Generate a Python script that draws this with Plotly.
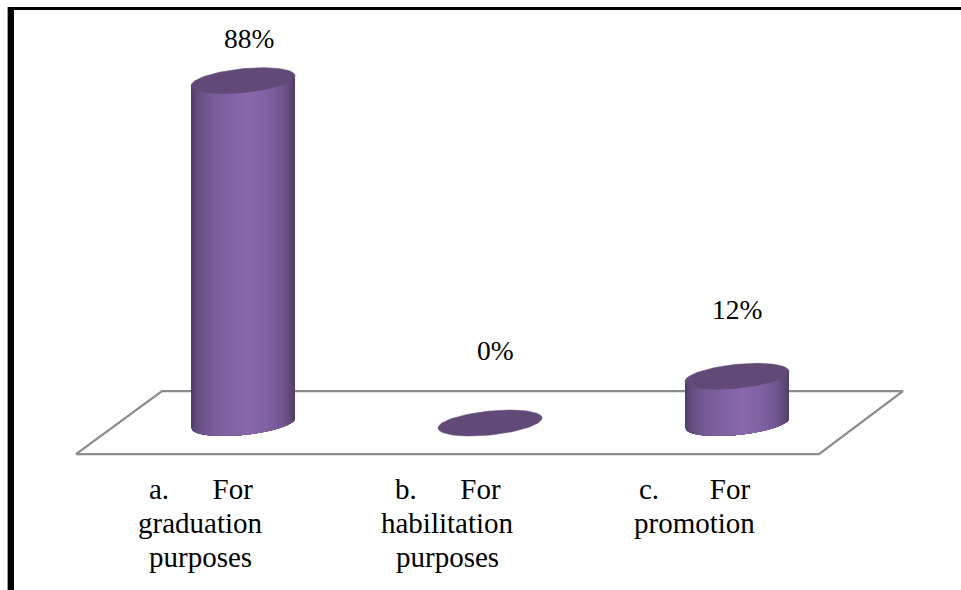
import plotly.graph_objects as go
import numpy as np

# Survey results
categories = [
    ["a.\u00a0\u00a0\u00a0\u00a0\u00a0\u00a0For", "graduation", "purposes"],
    ["b.\u00a0\u00a0\u00a0\u00a0\u00a0\u00a0For", "habilitation", "purposes"],
    ["c.\u00a0\u00a0\u00a0\u00a0\u00a0\u00a0\u00a0For", "promotion"],
]
values = [88, 0, 12]
value_labels = ["88%", "0%", "12%"]

WIDTH, HEIGHT = 961, 590
X_UNIT = 247.0   # pixels between neighbouring categories
Y_UNIT = 3.89    # pixels per percentage point
X0_PX, Y0_PX = 243.0, 423.0  # where category 0 / value 0 land on the page

# Cylinder geometry, in axis units
RX = 52.0 / X_UNIT
RY = 12.0 / Y_UNIT
TILT = 5.0 / Y_UNIT

# Left-to-right shading of the cylinder wall
shade_u = [-1.0, -0.88, -0.6, -0.2, 0.1, 0.45, 0.75, 0.93, 1.0]
shade_rgb = [
    (76, 60, 100), (100, 78, 130), (119, 92, 152), (130, 100, 166), (137, 104, 171),
    (129, 98, 163), (113, 87, 145), (92, 71, 118), (78, 61, 100),
]
CAP_COLOR = "#614a78"
FLOOR_COLOR = "#8c8c8c"
LABEL_FONT = dict(family="Liberation Serif", size=27.5, color="#000000")
CATEGORY_FONT = dict(family="Liberation Serif", size=29, color="#000000")
CATEGORY_LINE_PX = 34


def shade(u):
    channels = [np.interp(u, shade_u, [c[i] for c in shade_rgb]) for i in range(3)]
    return "rgb(%d,%d,%d)" % tuple(round(c) for c in channels)


fig = go.Figure()

# Floor of the 3D plot area
floor_x = [-0.676, 2.332, 2.672, -0.328, -0.676]
floor_y = [-8.0, -8.0, 8.2, 8.2, -8.0]
fig.add_trace(go.Scatter(x=floor_x, y=floor_y, mode="lines",
                         line=dict(color=FLOOR_COLOR, width=2.4), hoverinfo="skip"))

# Cylinders: the wall is painted left to right, each band overlapping the rest
# of the wall so no seams appear, then the elliptical top cap goes on top
edges = np.linspace(-1, 1, 81)
t = np.linspace(0, 2 * np.pi, 90)
for i, v in enumerate(values):
    if v > 0:
        for k in range(len(edges) - 1):
            us = np.linspace(edges[k], 1, 60)
            lower = TILT * us - RY * np.sqrt(np.clip(1 - us**2, 0, 1))
            upper = v + TILT * us
            xs = np.concatenate([i + RX * us, i + RX * us[::-1]])
            ys = np.concatenate([lower, upper[::-1]])
            c = shade((edges[k] + edges[k + 1]) / 2)
            fig.add_trace(go.Scatter(x=xs, y=ys, mode="lines", fill="toself", fillcolor=c,
                                     line=dict(width=0), hoverinfo="skip"))
    fig.add_trace(go.Scatter(x=i + RX * np.cos(t),
                             y=v + TILT * np.cos(t) + RY * np.sin(t),
                             mode="lines", fill="toself", fillcolor=CAP_COLOR,
                             line=dict(color=CAP_COLOR, width=0.5),
                             hoverinfo="skip"))

# Value labels above each cylinder
label_shift_x = [6, 5, 0]
label_shift_y = [42, 73, 67]
for i, (v, text) in enumerate(zip(values, value_labels)):
    fig.add_annotation(x=i, y=v, text=text, showarrow=False,
                       xshift=label_shift_x[i], yshift=label_shift_y[i], font=LABEL_FONT)

# Category labels, one line at a time for a tight line spacing
for i, lines in enumerate(categories):
    for n, line in enumerate(lines):
        fig.add_annotation(x=i, y=0, text=line, showarrow=False, xanchor="center", yanchor="middle",
                           xshift=-42.5, yshift=-66 - n * CATEGORY_LINE_PX, font=CATEGORY_FONT)

fig.update_layout(
    width=WIDTH, height=HEIGHT,
    margin=dict(l=0, r=0, t=0, b=0),
    paper_bgcolor="white", plot_bgcolor="white",
    showlegend=False,
    xaxis=dict(visible=False, range=[-X0_PX / X_UNIT, (WIDTH - X0_PX) / X_UNIT], fixedrange=True),
    yaxis=dict(visible=False, range=[(Y0_PX - HEIGHT) / Y_UNIT, Y0_PX / Y_UNIT], fixedrange=True),
    shapes=[
        # Black page frame, open to the right and bottom
        dict(type="rect", xref="paper", yref="paper", x0=8 / WIDTH, x1=14 / WIDTH, y0=0, y1=1 - 7 / HEIGHT,
             fillcolor="#000000", line_width=0),
        dict(type="rect", xref="paper", yref="paper", x0=8 / WIDTH, x1=1, y0=1 - 10 / HEIGHT, y1=1 - 7 / HEIGHT,
             fillcolor="#000000", line_width=0),
        dict(type="rect", xref="paper", yref="paper", x0=7 / WIDTH, x1=8 / WIDTH, y0=0, y1=1 - 7 / HEIGHT,
             fillcolor="#a0a0a0", line_width=0),
    ],
)

fig.write_html("out.html", config=dict(displayModeBar=False))
